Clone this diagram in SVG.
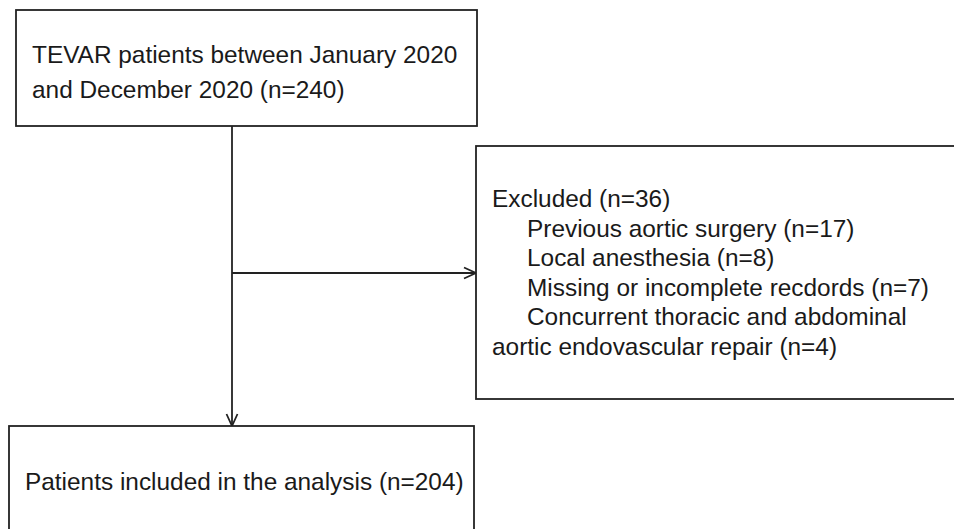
<svg xmlns="http://www.w3.org/2000/svg" width="954" height="529" viewBox="0 0 954 529">
<style>
.box{fill:#fff;stroke:#222;stroke-width:1.8}
.t{font-family:"Liberation Sans",Arial,sans-serif;font-size:24.4px;fill:#1a1a1a}
.ln{fill:none;stroke:#222;stroke-width:1.8}
</style>
<defs>
<marker id="arr" viewBox="0 0 14 14" refX="13" refY="7" markerWidth="14" markerHeight="14" markerUnits="userSpaceOnUse" orient="auto">
<path d="M1,1.5 L13,7 L1,12.5" fill="none" stroke="#222" stroke-width="1.8"/>
</marker>
</defs>
<rect width="954" height="529" fill="#fff"/>
<g id="connectors">
<line class="ln" x1="232" y1="126" x2="232" y2="426" marker-end="url(#arr)"/>
<line class="ln" x1="232" y1="273" x2="476" y2="273" marker-end="url(#arr)"/>
</g>
<g id="node-tevar">
<rect class="box" x="16" y="10" width="461" height="116"/>
<text class="t" x="32" y="63">TEVAR patients between January 2020</text>
<text class="t" x="32" y="98">and December 2020 (n=240)</text>
</g>
<g id="node-excluded">
<rect class="box" x="476" y="146" width="490" height="253"/>
<text class="t" x="492" y="207">Excluded (n=36)</text>
<text class="t" x="527" y="237">Previous aortic surgery (n=17)</text>
<text class="t" x="527" y="266">Local anesthesia (n=8)</text>
<text class="t" x="527" y="296">Missing or incomplete recdords (n=7)</text>
<text class="t" x="527" y="325">Concurrent thoracic and abdominal</text>
<text class="t" x="492" y="355">aortic endovascular repair (n=4)</text>
</g>
<g id="node-included">
<rect class="box" x="9" y="426" width="465" height="120"/>
<text class="t" x="25" y="490">Patients included in the analysis (n=204)</text>
</g>
</svg>
